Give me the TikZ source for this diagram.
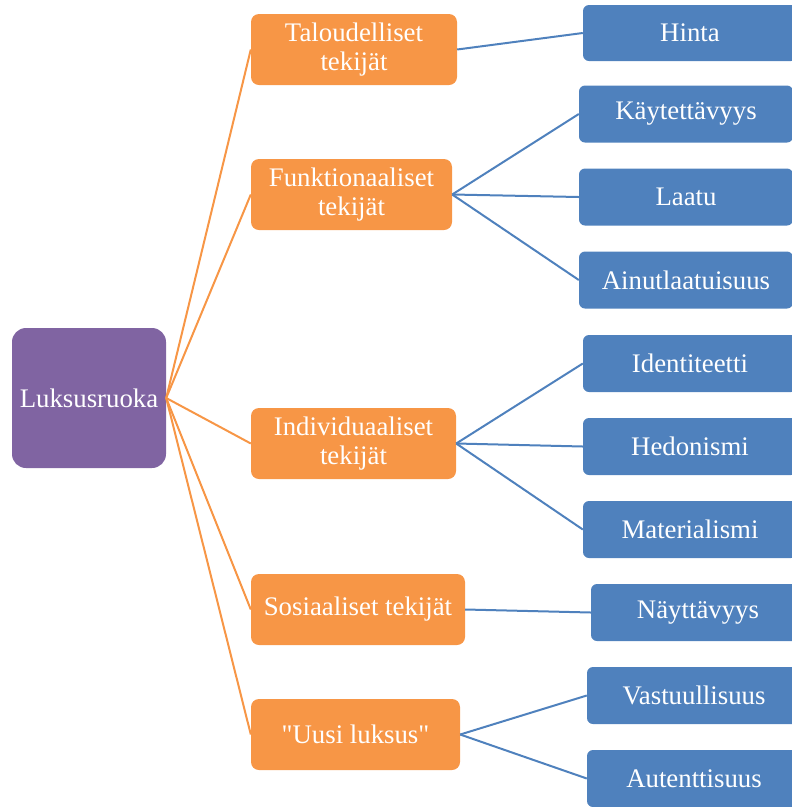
\documentclass[tikz,border=0pt]{standalone}
\usepackage{fontspec}
\setmainfont{Liberation Serif}
\newfontfamily\plainquotes{Liberation Serif}[Ligatures=ResetAll]
\definecolor{luxPurple}{RGB}{128,100,162}
\definecolor{facOrange}{RGB}{247,150,70}
\definecolor{subBlue}{RGB}{79,129,189}

\begin{document}
\begin{tikzpicture}[
    x=1pt, y=-1pt,
    font=\fontsize{26.8}{29}\selectfont,
    root/.style={fill=luxPurple, text=white, rounded corners=14pt, align=center,
                 minimum width=154pt, minimum height=140pt, inner sep=2pt},
    factor/.style={fill=facOrange, text=white, rounded corners=8pt, align=center,
                   minimum height=71pt, inner sep=2pt},
    item/.style={fill=subBlue, text=white, rounded corners=6pt, align=center,
                 minimum width=214pt, minimum height=57pt, inner sep=2pt},
    olink/.style={facOrange, line width=2pt},
    blink/.style={subBlue, line width=2pt},
  ]
    \useasboundingbox (0,0) rectangle (792,807);
    \node[root] (lux) at (89,398) {Luksusruoka};
    % tekijat
    \node[factor, minimum width=206pt] (tal) at (354,49.5) {Taloudelliset\\tekijät};
    \node[factor, minimum width=201pt] (fun) at (351.5,194.5) {Funktionaaliset\\tekijät};
    \node[factor, minimum width=205pt] (ind) at (353.5,443.5) {Individuaaliset\\tekijät};
    \node[factor, minimum width=214pt] (sos) at (358,609.5) {Sosiaaliset tekijät};
    \node[factor, minimum width=209pt] (uus) at (355.5,734.5) {\plainquotes "Uusi luksus"};
    % ominaisuudet
    \node[item, minimum height=56pt] (hin) at (690,33) {Hinta};
    \node[item] (kay) at (686,114) {Käytettävyys};
    \node[item] (laa) at (686,197) {Laatu};
    \node[item] (ain) at (686,280) {Ainutlaatuisuus};
    \node[item] (ide) at (690,363.5) {Identiteetti};
    \node[item] (hed) at (690,446.5) {Hedonismi};
    \node[item] (mat) at (690,529.5) {Materialismi};
    \node[item] (nay) at (698,612.5) {Näyttävyys};
    \node[item] (vas) at (694,695.5) {Vastuullisuus};
    \node[item] (aut) at (694,778.5) {Autenttisuus};
    \foreach \f in {tal,fun,ind,sos,uus}
      \draw[olink] (lux.east) -- (\f.west);
    \draw[blink] (tal.east) -- (hin.west);
    \draw[blink] (fun.east) -- (kay.west);
    \draw[blink] (fun.east) -- (laa.west);
    \draw[blink] (fun.east) -- (ain.west);
    \draw[blink] (ind.east) -- (ide.west);
    \draw[blink] (ind.east) -- (hed.west);
    \draw[blink] (ind.east) -- (mat.west);
    \draw[blink] (sos.east) -- (nay.west);
    \draw[blink] (uus.east) -- (vas.west);
    \draw[blink] (uus.east) -- (aut.west);
  \end{tikzpicture}
\end{document}
